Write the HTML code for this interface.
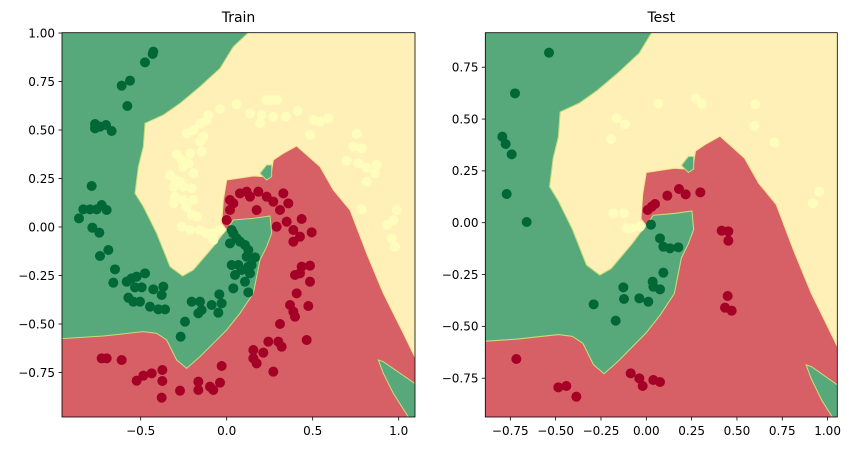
<!DOCTYPE html>
<html><head><meta charset="utf-8"><style>
html,body{margin:0;padding:0;background:#fff;width:851px;height:451px;overflow:hidden}
svg{display:block}
svg text{font-family:"DejaVu Sans","Liberation Sans",sans-serif;fill:#000}
</style></head><body>
<svg id="s" width="851" height="451" viewBox="0 0 851 451" xmlns="http://www.w3.org/2000/svg">
<defs>
<clipPath id="cl"><rect x="62" y="32.7" width="353" height="384.3"/></clipPath>
<clipPath id="cr"><rect x="485.3" y="32.7" width="352" height="384.3"/></clipPath>
<g id="reg">
<rect x="180" y="90" width="1066" height="1163" fill="#d75f66"/>
<polygon fill="#fef0b7" stroke="#f7e58f" stroke-width="3" points="745,90 1246,90 1246,1072 1244,1070 1210,1000 1150,880 1100,760 1050,630 1000,570 960,500 890,438 850,460 820,480 812,530 790,530 760,528 680,540 670,600 665,670 680,690 670,700 640,740 580,810 548,828 510,800 470,700 430,620 405,580 415,500 430,440 435,370 490,345 540,310 600,260 660,205 700,140"/>
<polygon fill="#57a97b" stroke="#c5dd7c" stroke-width="3" points="180,90 752,90 745,98 700,140 660,205 600,260 540,310 490,345 435,370 430,440 415,500 405,580 430,620 470,700 510,800 548,828 580,810 640,740 670,700 680,690 700,660 760,655 810,648 815,700 800,740 780,780 770,830 760,880 720,940 680,990 640,1030 600,1070 560,1105 530,1080 500,1020 470,1000 430,995 310,1008 186,1016 180,1018"/>
<polygon fill="#57a97b" stroke="#c5dd7c" stroke-width="3" points="1135,1080 1150,1085 1244,1150 1246,1151 1246,1253 1225,1253 1225,1251 1180,1180 1150,1120"/>
<polygon fill="#57a97b" stroke="#c5dd7c" stroke-width="3" points="780,520 800,495 815,495 815,530 800,540"/>
</g>
</defs>
<g clip-path="url(#cl)"><use href="#reg" transform="scale(0.33333)"/></g>
<g clip-path="url(#cr)"><use href="#reg" transform="matrix(0.35137,0,0,0.3562,407.3,-19.87)"/></g>
<g id="pts"></g>
<rect x="62" y="32.7" width="353" height="384.3" fill="none" stroke="#000" stroke-width="0.8"/>
<rect x="485.3" y="32.7" width="352" height="384.3" fill="none" stroke="#000" stroke-width="0.8"/>
<text x="238.5" y="22" font-size="14" text-anchor="middle">Train</text>
<text x="661.3" y="22" font-size="14" text-anchor="middle">Test</text>
<g id="ticks" font-size="12"></g>
</svg>
<script>
var NS="http://www.w3.org/2000/svg",P=document.getElementById("pts"),T=document.getElementById("ticks");
function c(x,y,f){var e=document.createElementNS(NS,"circle");e.setAttribute("cx",x);e.setAttribute("cy",y);e.setAttribute("r",5);e.setAttribute("fill",f);P.appendChild(e);}
var G="#006837",R="#a50026",Y="#fefdbc";
var tg=[[460,155],[458,162],[435,187],[390,242],[365,257],[382,318],[285,372],[285,385],[300,380],[318,375],[335,393],[275,558],[250,628],[270,628],[290,628],[305,615],[320,630],[237,655],[277,683],[298,698],[325,750],[300,768],[345,808],[340,848],[380,845],[395,835],[410,830],[435,820],[405,862],[425,862],[460,868],[490,860],[385,893],[400,905],[420,905],[450,920],[475,928],[495,928],[485,885],[575,905],[600,905],[595,940],[605,930],[635,915],[655,938],[665,910],[658,883],[555,965],[542,1010],[695,690],[700,700],[710,715],[720,725],[735,735],[745,750],[740,770],[765,772],[690,730],[695,795],[715,795],[725,810],[745,800],[750,820],[705,825],[735,845],[700,865],[745,877],[755,795]];
var tr=[[690,600],[700,610],[720,580],[740,575],[750,590],[775,575],[800,590],[820,605],[850,580],[865,610],[840,630],[770,630],[690,630],[680,660],[830,680],[860,665],[880,690],[900,710],[905,657],[935,697],[880,725],[905,800],[930,797],[885,825],[900,820],[930,845],[890,880],[870,915],[880,935],[885,950],[925,918],[840,972],[920,1020],[835,1025],[805,1025],[845,1040],[760,1050],[790,1058],[760,1075],[770,1090],[665,1098],[820,1115],[305,1075],[320,1075],[365,1080],[410,1142],[430,1127],[455,1120],[487,1110],[487,1143],[485,1193],[540,1172],[595,1145],[595,1170],[630,1160],[640,1170],[660,1148]];
var ty=[[800,300],[815,300],[830,300],[710,313],[660,327],[625,345],[620,360],[600,370],[580,390],[560,400],[610,410],[600,425],[605,455],[570,460],[530,463],[545,480],[565,490],[550,500],[580,520],[510,525],[525,540],[540,545],[520,560],[550,560],[575,565],[525,590],[550,600],[580,600],[520,610],[560,620],[575,645],[590,650],[545,680],[570,690],[600,690],[620,700],[640,700],[660,690],[640,720],[750,340],[785,345],[780,370],[820,350],[858,350],[893,333],[940,360],[960,365],[985,355],[930,405],[1070,402],[1060,440],[1085,445],[1040,482],[1075,490],[1100,503],[1130,495],[1125,520],[1100,545],[1085,628],[1190,630],[1160,675],[1180,660],[1175,715],[1185,740]];
var sg=[[372,158],[270,280],[232,410],[242,432],[260,463],[245,582],[305,666],[678,674],[705,715],[715,740],[735,745],[760,742],[715,818],[683,845],[685,860],[705,868],[595,862],[597,897],[643,895],[670,905],[506,913],[572,962]];
var sr=[[668,630],[680,620],[690,612],[727,587],[762,567],[782,583],[826,577],[890,692],[910,694],[910,722],[908,888],[900,923],[920,932],[274,1077],[400,1162],[424,1158],[454,1190],[617,1120],[643,1135],[653,1158],[685,1140],[705,1146]];
var sy=[[575,355],[600,373],[558,417],[700,311],[812,296],[830,312],[990,313],[988,378],[1048,427],[1182,575],[1163,610],[565,640],[597,640],[605,685],[620,685],[645,680]];
ty.forEach(function(p){c(p[0]/3,p[1]/3,Y)});tg.forEach(function(p){c(p[0]/3,p[1]/3,G)});tr.forEach(function(p){c(p[0]/3,p[1]/3,R)});
sy.forEach(function(p){c(425+p[0]/3,p[1]/3,Y)});sg.forEach(function(p){c(425+p[0]/3,p[1]/3,G)});sr.forEach(function(p){c(425+p[0]/3,p[1]/3,R)});
function ln(x1,y1,x2,y2){var e=document.createElementNS(NS,"line");e.setAttribute("x1",x1);e.setAttribute("y1",y1);e.setAttribute("x2",x2);e.setAttribute("y2",y2);e.setAttribute("stroke","#000");e.setAttribute("stroke-width","0.8");T.appendChild(e);}
function tx(x,y,s,a){var e=document.createElementNS(NS,"text");e.setAttribute("x",x);e.setAttribute("y",y);e.setAttribute("text-anchor",a);e.textContent=s;T.appendChild(e);}
function lab(v,d){var s=v.toFixed(d);return v<0?"\u2212"+s.slice(1):s;}
[1,0.75,0.5,0.25,0,-0.25,-0.5,-0.75].forEach(function(v){var y=227-194*v;ln(58.5,y,62,y);tx(55,y+4.3,lab(v,2),"end");});
[-0.5,0,0.5,1].forEach(function(v){var x=226.7+172*v;ln(x,417,x,420.5);tx(x,435,lab(v,1),"middle");});
[0.75,0.5,0.25,0,-0.25,-0.5,-0.75].forEach(function(v){var y=222.7-207.3*v;ln(481.8,y,485.3,y);tx(478.5,y+4.3,lab(v,2),"end");});
[-0.75,-0.5,-0.25,0,0.25,0.5,0.75,1].forEach(function(v){var x=646.3+181.3*v;ln(x,417,x,420.5);tx(x,435,lab(v,2),"middle");});
</script>
</body></html>
